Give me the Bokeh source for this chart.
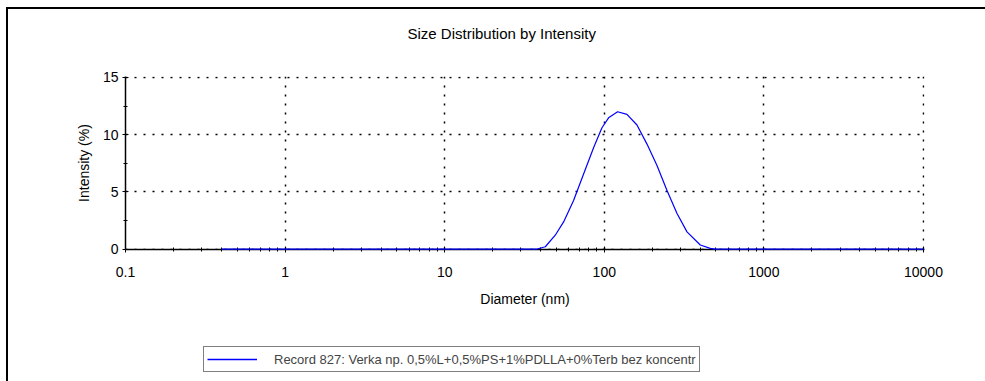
from bokeh.plotting import figure
from bokeh.layouts import column
from bokeh.models import (Range1d, LogTicker, SingleIntervalTicker, Legend, LegendItem,
                          FixedTicker, Label)
from bokeh.embed import file_html
from bokeh.resources import INLINE

# ---- data ----
diameter_nm = [0.4, 37.9, 42.7, 49.3, 55.6, 64.2, 74.2, 85.8, 96.7, 106.4, 121.2,
               138.7, 160.3, 185.2, 213.9, 247.2, 285.6, 329.9, 399.6, 461.6, 495.0, 10000.0]
intensity_pct = [0.0, 0.0, 0.2, 1.21, 2.37, 4.25, 6.56, 8.87, 10.6, 11.47, 12.0,
                 11.77, 10.84, 9.17, 7.3, 5.12, 3.1, 1.5, 0.35, 0.06, 0.0, 0.0]
x_major_ticks = [0.1, 1, 10, 100, 1000, 10000]
y_major_ticks = [0, 5, 10, 15]
title_text = "Size Distribution by Intensity"
x_label = "Diameter (nm)"
y_label = "Intensity (%)"
series_label = "Record 827: Verka np. 0,5%L+0,5%PS+1%PDLLA+0%Terb bez koncentr"

FONT = "Liberation Sans"
LINE_COLOR = "#0000ff"


def strip(height):
    f = figure(width=977, height=height, output_backend="svg", toolbar_location=None,
               x_range=Range1d(-100, -99), y_range=Range1d(-100, -99),
               x_axis_type=None, y_axis_type=None,
               min_border_left=0, min_border_right=0, min_border_top=0, min_border_bottom=0)
    f.outline_line_color = None
    f.xgrid.visible = False
    f.ygrid.visible = False
    return f


# ---- title strip ----
pt = strip(45)
pt.add_layout(Label(x=282, y=21, x_units="screen", y_units="screen", text=title_text,
                    text_font=FONT, text_font_size="15px", text_color="black",
                    text_align="left", text_baseline="middle"))

# ---- main chart ----
p = figure(width=977, height=277, x_axis_type="log", output_backend="svg",
           toolbar_location=None, x_range=Range1d(0.1, 10150), y_range=Range1d(-0.04, 15.08),
           min_border_left=117, min_border_right=61, min_border_top=22, min_border_bottom=82)
p.outline_line_color = None
p.background_fill_color = "white"
p.border_fill_color = "white"

r = p.line(diameter_nm, intensity_pct, line_color=LINE_COLOR, line_width=1.2)
r.level = "overlay"

xa = p.xaxis[0]
ya = p.yaxis[0]
xa.ticker = LogTicker(desired_num_ticks=6, num_minor_ticks=10)
xa.major_label_overrides = {0.1: "0.1", 1: "1", 10: "10", 100: "100", 1000: "1000", 10000: "10000"}
ya.ticker = SingleIntervalTicker(interval=5, num_minor_ticks=2)
for ax in (xa, ya):
    ax.axis_line_color = "black"
    ax.axis_line_width = 1.5
    ax.major_tick_line_color = "black"
    ax.minor_tick_line_color = "black"
    ax.major_tick_in = 3
    ax.major_tick_out = 3
    ax.minor_tick_in = 2
    ax.minor_tick_out = 2
    ax.major_label_text_font = FONT
    ax.major_label_text_font_size = "14px"
    ax.major_label_text_color = "black"
    ax.axis_label_text_font = FONT
    ax.axis_label_text_font_size = "14px"
    ax.axis_label_text_font_style = "normal"
    ax.axis_label_text_color = "black"
xa.axis_label = x_label
ya.axis_label = y_label
xa.major_label_standoff = 14
xa.axis_label_standoff = 11
ya.major_label_standoff = 4
ya.axis_label_standoff = 8

p.xgrid.ticker = FixedTicker(ticks=x_major_ticks)
p.ygrid.ticker = FixedTicker(ticks=y_major_ticks)
for g in (p.xgrid, p.ygrid):
    g.grid_line_color = "black"
    g.grid_line_dash = "2 7"
    g.grid_line_width = 1.5

# ---- legend strip ----
pl = strip(50)
rl = pl.line(diameter_nm, intensity_pct, line_color=LINE_COLOR, line_width=1.5)

legend = Legend(items=[LegendItem(label=series_label, renderers=[rl])],
                location=(78, 9))
legend.border_line_color = "black"
legend.border_line_width = 1
legend.label_text_font = FONT
legend.label_text_font_size = "13px"
legend.glyph_width = 50
legend.glyph_height = 18
legend.label_height = 18
legend.label_standoff = 17
legend.padding = 3
legend.margin = 0
legend.background_fill_color = "white"
pl.add_layout(legend, "center")

layout = column(pt, p, pl, spacing=0)
layout.styles = {"margin-left": "6px", "margin-top": "7px",
                 "border-top": "2px solid black", "border-left": "2px solid black"}

open("out.html", "w").write(file_html(layout, INLINE))
